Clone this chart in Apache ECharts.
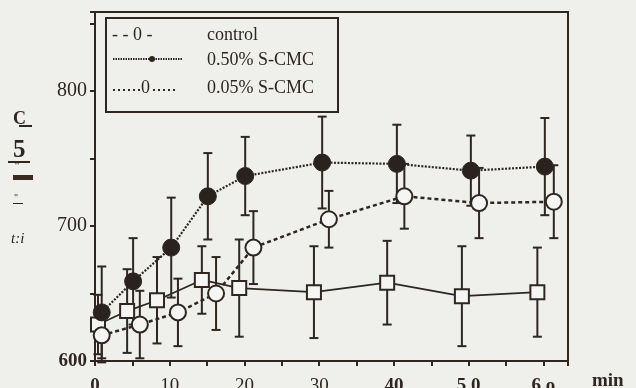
<!DOCTYPE html>
<html>
<head>
<meta charset="utf-8">
<script src="https://cdn.jsdelivr.net/npm/echarts@6/dist/echarts.min.js"></script>
<style>
html,body{margin:0;padding:0;background:#efefec;}
#c{width:636px;height:388px;}
</style>
</head>
<body>
<div id="c"></div>
<script>
// ---- data ----
var controlTime = [0.4, 4.3, 8.3, 14.3, 19.3, 29.3, 39.1, 49.1, 59.2];
var controlVal  = [627, 637, 645, 660, 654, 651, 658, 648, 651];
var controlErr  = [22, 31, 32, 25, 36, 34, 31, 37, 33];

var cmc050Time = [0.9, 5.1, 10.2, 15.1, 20.1, 30.4, 40.4, 50.3, 60.2];
var cmc050Val  = [636, 659, 684, 722, 737, 747, 746, 741, 744];
var cmc050Err  = [34, 32, 37, 32, 29, 34, 29, 26, 36];

var cmc005Time = [0.9, 6.0, 11.1, 16.2, 21.2, 31.3, 41.4, 51.4, 61.4];
var cmc005Val  = [619, 627, 636, 650, 684, 705, 722, 717, 718];
var cmc005Err  = [20, 25, 25, 27, 27, 21, 24, 26, 27];

var xTickLabels = {0:'0', 10:'10', 20:'20', 30:'30', 40:'40', 50:'5 0', 60:'6 o'};
var xBoldTicks = [0, 40, 50, 60];
var yTickLabels = {600:'600', 700:'700', 800:'800'};
var legendNames = ['control', '0.50% S-CMC', '0.05% S-CMC'];

var ink = '#2f2620';
var paper = '#f5f5f3';
var serif = '"Liberation Serif", "DejaVu Serif", serif';

function pairs(t, v) { return t.map(function (x, i) { return [x, v[i]]; }); }
function errData(t, v, e) { return t.map(function (x, i) { return [x, v[i] - e[i], v[i] + e[i]]; }); }

function errSeries(t, v, e) {
  return {
    type: 'custom',
    data: errData(t, v, e),
    z: 1,
    silent: true,
    renderItem: function (params, api) {
      var lo = api.coord([api.value(0), api.value(1)]);
      var hi = api.coord([api.value(0), api.value(2)]);
      var w = 4.5;
      var st = {stroke: ink, lineWidth: 2};
      return {
        type: 'group',
        children: [
          {type: 'line', shape: {x1: lo[0], y1: lo[1], x2: hi[0], y2: hi[1]}, style: st},
          {type: 'line', shape: {x1: lo[0] - w, y1: lo[1], x2: lo[0] + w, y2: lo[1]}, style: st},
          {type: 'line', shape: {x1: hi[0] - w, y1: hi[1], x2: hi[0] + w, y2: hi[1]}, style: st}
        ]
      };
    }
  };
}

var chart = echarts.init(document.getElementById('c'), null, {renderer: 'canvas'});

var option = {
  backgroundColor: '#efefec',
  animation: false,
  grid: {left: 95, right: 68, top: 12, bottom: 27, containLabel: false, outerBoundsMode: 'none',
         show: true, borderColor: ink, borderWidth: 2, backgroundColor: 'transparent'},
  xAxis: {
    type: 'value', min: 0, max: 63.3, interval: 10,
    axisLine: {show: true, lineStyle: {color: ink, width: 2}},
    axisTick: {show: true, inside: false, length: 5, lineStyle: {color: ink, width: 2}},
    minorTick: {show: true, splitNumber: 2, length: 5, lineStyle: {color: ink, width: 2}},
    splitLine: {show: false},
    axisLabel: {
      margin: 16, color: ink, fontFamily: serif, fontSize: 19,
      formatter: function (v) {
        var s = xTickLabels[Math.round(v)];
        if (s === undefined) return '';
        return xBoldTicks.indexOf(Math.round(v)) >= 0 ? '{b|' + s + '}' : s;
      },
      rich: {b: {fontWeight: 'bold', fontFamily: serif, fontSize: 19, color: ink}}
    }
  },
  yAxis: {
    type: 'value', min: 600, max: 858.5, interval: 50,
    axisLine: {show: true, lineStyle: {color: ink, width: 2}},
    axisTick: {show: true, inside: false, length: 5, lineStyle: {color: ink, width: 2}},
    splitLine: {show: false},
    axisLabel: {
      margin: 8, color: ink, fontFamily: serif, fontSize: 20,
      formatter: function (v) {
        var s = yTickLabels[Math.round(v)];
        if (s === undefined) return '';
        return Math.round(v) === 600 ? '{b|' + s + '}' : s;
      },
      rich: {b: {fontWeight: 'bold', fontFamily: serif, fontSize: 19, color: ink}}
    }
  },
  series: [
    errSeries(controlTime, controlVal, controlErr),
    errSeries(cmc050Time, cmc050Val, cmc050Err),
    errSeries(cmc005Time, cmc005Val, cmc005Err),
    {
      name: legendNames[0], type: 'line', data: pairs(controlTime, controlVal), z: 3,
      symbol: 'rect', symbolSize: 14,
      lineStyle: {color: ink, width: 1.8, type: 'solid'},
      itemStyle: {color: paper, borderColor: ink, borderWidth: 2}
    },
    {
      name: legendNames[2], type: 'line', data: pairs(cmc005Time, cmc005Val), z: 4,
      symbol: 'circle', symbolSize: 16,
      lineStyle: {color: ink, width: 2.5, type: [4, 3]},
      itemStyle: {color: paper, borderColor: ink, borderWidth: 2}
    },
    {
      name: legendNames[1], type: 'line', data: pairs(cmc050Time, cmc050Val), z: 5,
      symbol: 'circle', symbolSize: 17,
      lineStyle: {color: ink, width: 2.2, type: [2, 1.5]},
      itemStyle: {color: '#2a221d', borderColor: ink, borderWidth: 1}
    }
  ],
  graphic: [
    // legend box
    {type: 'rect', left: 105, top: 17, shape: {width: 232, height: 94}, style: {fill: '#efefec', stroke: ink, lineWidth: 2}, z: 10},
    {type: 'text', left: 112, top: 26, style: {text: '- - 0 -', font: '18px ' + serif, fill: ink}, z: 11},
    {type: 'text', left: 207, top: 26, style: {text: legendNames[0], font: '18px ' + serif, fill: ink}, z: 11},
    {type: 'line', shape: {x1: 113, y1: 59, x2: 183, y2: 59}, style: {stroke: ink, lineWidth: 2.2, lineDash: [1.5, 1]}, z: 11},
    {type: 'circle', shape: {cx: 152, cy: 59, r: 3}, style: {fill: ink}, z: 11},
    {type: 'text', left: 207, top: 51, style: {text: legendNames[1], font: '18px ' + serif, fill: ink}, z: 11},
    {type: 'line', shape: {x1: 113, y1: 90, x2: 140, y2: 90}, style: {stroke: ink, lineWidth: 2, lineDash: [2, 3]}, z: 11},
    {type: 'text', left: 141, top: 79, style: {text: '0', font: '18px ' + serif, fill: ink}, z: 11},
    {type: 'line', shape: {x1: 153, y1: 90, x2: 178, y2: 90}, style: {stroke: ink, lineWidth: 2, lineDash: [2, 3]}, z: 11},
    {type: 'text', left: 207, top: 79, style: {text: legendNames[2], font: '18px ' + serif, fill: ink}, z: 11},
    // garbled axis label glyphs on the left
    {type: 'text', left: 13, top: 110, style: {text: 'C', font: 'bold 18px ' + serif, fill: ink}},
    {type: 'rect', shape: {x: 19, y: 125, width: 13, height: 2}, style: {fill: ink}},
    {type: 'text', left: 13, top: 138, style: {text: '5', font: 'bold 25px ' + serif, fill: ink}},
    {type: 'rect', shape: {x: 8, y: 161, width: 22, height: 2}, style: {fill: ink}},
    {type: 'text', left: 14, top: 161, style: {text: '"', font: 'bold 11px ' + serif, fill: ink}},
    {type: 'rect', shape: {x: 13, y: 175, width: 20, height: 5}, style: {fill: '#3b2a20'}},
    {type: 'text', left: 14, top: 193, style: {text: '"', font: '10px ' + serif, fill: ink}},
    {type: 'rect', shape: {x: 13, y: 203, width: 10, height: 1}, style: {fill: ink}},
    {type: 'text', left: 11, top: 232, style: {text: 't:i', font: 'italic 15px ' + serif, fill: ink}},
    // axis unit
    {type: 'text', left: 592, top: 372, style: {text: 'min', font: 'bold 19px ' + serif, fill: ink}}
  ]
};
chart.setOption(option);
</script>
</body>
</html>
